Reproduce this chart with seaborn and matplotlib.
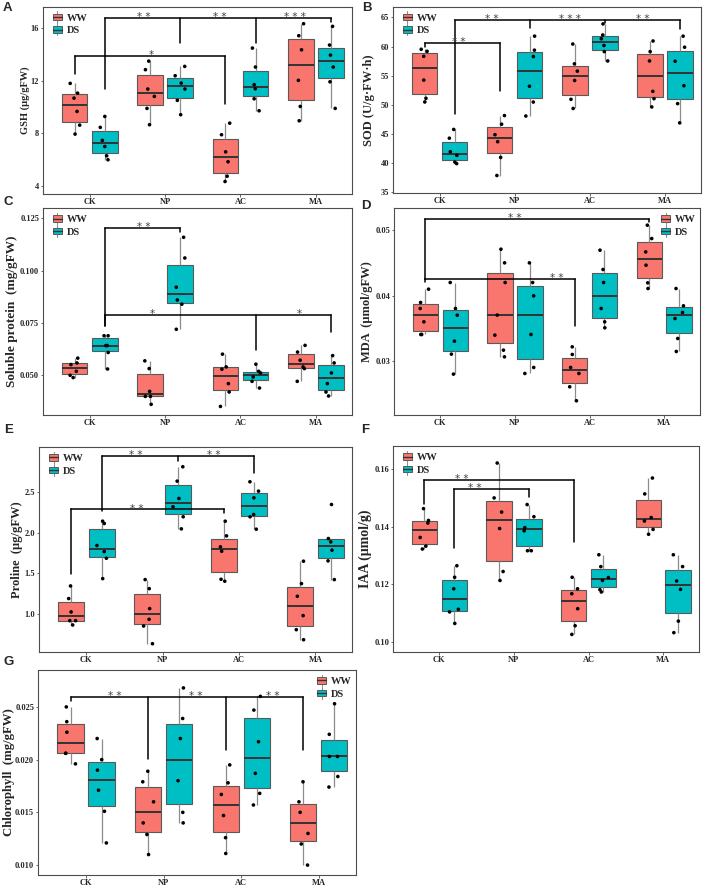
import numpy as np
import pandas as pd
import matplotlib
matplotlib.use("Agg")
import matplotlib.pyplot as plt
import seaborn as sns
from matplotlib.legend_handler import HandlerBase
from matplotlib.patches import Rectangle, Patch
from matplotlib.lines import Line2D

sns.set_style("white")
plt.rcParams["font.family"] = ["Liberation Serif", "DejaVu Serif"]
plt.rcParams["font.weight"] = "bold"
np.random.seed(7)

treatments = ["CK", "NP", "AC", "MA"]
conditions = ["WW", "DS"]
palette = {"WW": "#F8766D", "DS": "#00BFC4"}

# ---- data (per treatment: CK, NP, AC, MA) ----
gsh_ww = [[11.80, 11.06, 10.68, 9.67, 8.63, 7.95], [13.49, 12.84, 11.37, 10.81, 9.90, 8.66],
          [8.78, 7.90, 6.60, 5.85, 4.75, 4.35], [16.33, 15.42, 14.35, 12.03, 10.05, 8.96]]
gsh_ds = [[9.29, 8.46, 7.47, 7.01, 6.30, 6.00], [13.09, 12.38, 11.82, 11.37, 10.51, 9.42],
          [14.48, 13.04, 11.70, 11.39, 10.63, 9.72], [16.13, 14.71, 13.95, 13.04, 11.92, 9.90]]

sod_ww = [[59.55, 59.20, 58.35, 54.26, 51.14, 50.51], [48.18, 46.70, 44.90, 43.70, 41.00, 37.90],
          [60.45, 57.05, 55.80, 54.20, 50.97, 49.40], [60.97, 59.15, 57.55, 52.33, 51.08, 49.66]]
sod_ds = [[45.80, 44.30, 41.98, 41.36, 40.20, 39.94], [61.80, 59.40, 58.30, 53.20, 50.50, 48.10],
          [63.90, 62.00, 61.36, 60.20, 59.15, 57.55], [61.80, 59.90, 57.50, 53.30, 50.23, 46.93]]

prot_ww = [[0.0582, 0.0559, 0.0551, 0.0519, 0.0500, 0.0489], [0.0569, 0.0532, 0.0423, 0.0399, 0.0399, 0.0361],
           [0.0601, 0.0540, 0.0529, 0.0460, 0.0420, 0.0351], [0.0643, 0.0611, 0.0572, 0.0540, 0.0532, 0.0471]]
prot_ds = [[0.0689, 0.0689, 0.0642, 0.0642, 0.0609, 0.0530], [0.1160, 0.1061, 0.0921, 0.0860, 0.0840, 0.0720],
           [0.0553, 0.0519, 0.0511, 0.0492, 0.0471, 0.0439], [0.0594, 0.0559, 0.0511, 0.0460, 0.0420, 0.0401]]

mda_ww = [[0.04097, 0.03893, 0.03801, 0.03597, 0.03403, 0.03403],
          [0.04709, 0.04500, 0.04199, 0.03700, 0.03393, 0.03163, 0.03061],
          [0.03214, 0.03097, 0.02898, 0.02806, 0.02602, 0.02388],
          [0.05077, 0.04872, 0.04668, 0.04464, 0.04194, 0.04107]]
mda_ds = [[0.04199, 0.03801, 0.03699, 0.03301, 0.03102, 0.02796],
          [0.04500, 0.04199, 0.03995, 0.03403, 0.02898, 0.02806],
          [0.04694, 0.04398, 0.04199, 0.03801, 0.03597, 0.03505],
          [0.04107, 0.03842, 0.03740, 0.03648, 0.03342, 0.03143]]

pro_ww = [[1.344, 1.189, 1.025, 0.918, 0.918, 0.865], [1.422, 1.311, 1.066, 0.934, 0.852, 0.635],
          [2.139, 1.959, 1.824, 1.770, 1.426, 1.402], [1.648, 1.373, 1.217, 0.980, 0.807, 0.684]]
pro_ds = [[2.139, 2.111, 1.840, 1.766, 1.684, 1.434], [2.807, 2.631, 2.418, 2.316, 2.193, 2.045],
          [2.623, 2.508, 2.426, 2.221, 2.193, 2.041], [2.344, 1.926, 1.885, 1.783, 1.652, 1.422]]

iaa_ww = [[0.1463, 0.1422, 0.1413, 0.1363, 0.1333, 0.1323], [0.1621, 0.1500, 0.1451, 0.1394, 0.1245, 0.1214],
          [0.1225, 0.1185, 0.1168, 0.1116, 0.1057, 0.1027], [0.1569, 0.1514, 0.1432, 0.1420, 0.1391, 0.1374]]
iaa_ds = [[0.1265, 0.1225, 0.1185, 0.1114, 0.1105, 0.1065], [0.1477, 0.1435, 0.1397, 0.1386, 0.1317, 0.1317],
          [0.1303, 0.1262, 0.1224, 0.1214, 0.1182, 0.1174], [0.1303, 0.1262, 0.1212, 0.1183, 0.1073, 0.1033]]

chl_ww = [[0.0250, 0.0236, 0.0226, 0.0206, 0.0206, 0.0196], [0.0189, 0.0179, 0.0160, 0.0140, 0.0129, 0.0110],
          [0.0195, 0.0178, 0.0167, 0.0147, 0.0126, 0.0111], [0.0179, 0.0160, 0.0150, 0.0130, 0.0120, 0.0100]]
chl_ds = [[0.0220, 0.0200, 0.0190, 0.0171, 0.0151, 0.0121], [0.0268, 0.0239, 0.0220, 0.0180, 0.0150, 0.0140],
          [0.0260, 0.0247, 0.0217, 0.0187, 0.0168, 0.0157], [0.0253, 0.0224, 0.0203, 0.0203, 0.0184, 0.0174]]

# ---- panel definitions ----
panels = [
    dict(letter="A", ww=gsh_ww, ds=gsh_ds, ylabel="GSH (μg/gFW)", ylim=(3.4, 17.6),
         yticks=[4, 8, 12, 16], fmt="{:g}", lsize=7.5, lpad=18, legend="upper left",
         rect=(43, 7, 352, 194),
         brackets=[
             dict(top=13.85, legs=[("CK", "WW", 12.53), ("AC", "WW", 10.23)], labels=[(0.82, "*")]),
             dict(top=16.76, legs=[("CK", "DS", 11.37), ("NP", "DS", 14.86), ("AC", "DS", 14.86), ("MA", "DS", 16.43)],
                  labels=[(0.72, "* *"), (1.72, "* *"), (2.72, "* * *")]),
         ]),
    dict(letter="B", ww=sod_ww, ds=sod_ds, ylabel="SOD (U/g·FW·h)", ylim=(34.9, 66.8),
         yticks=[35, 40, 45, 50, 55, 60, 65], fmt="{:g}", lsize=9, lpad=24, legend="upper left",
         rect=(393, 7, 701, 193),
         brackets=[
             dict(top=60.57, legs=[("CK", "WW", 60.0), ("NP", "WW", 52.4)], labels=[(0.26, "* *")]),
             dict(top=64.6, legs=[("CK", "DS", 48.5), ("NP", "DS", 63.2), ("AC", "DS", 64.0), ("MA", "DS", 63.0)],
                  labels=[(0.70, "* *"), (1.74, "* * *"), (2.70, "* *")]),
         ]),
    dict(letter="C", ww=prot_ww, ds=prot_ds, ylabel="Soluble protein  (mg/gFW)", ylim=(0.031, 0.130),
         yticks=[0.050, 0.075, 0.100, 0.125], fmt="{:.3f}", lsize=9.5, lpad=31, legend="upper left",
         rect=(43, 208, 352, 415),
         brackets=[
             dict(top=0.1205, legs=[("CK", "DS", 0.0736), ("NP", "DS", 0.1186)], labels=[(0.72, "* *")]),
             dict(top=0.0788, legs=[("CK", "DS", 0.0736), ("AC", "DS", 0.0623), ("MA", "DS", 0.0708)],
                  labels=[(0.83, "*"), (2.78, "*")]),
         ]),
    dict(letter="D", ww=mda_ww, ds=mda_ds, ylabel="MDA  (μmol/gFW)", ylim=(0.0217, 0.0534),
         yticks=[0.03, 0.04, 0.05], fmt="{:.2f}", lsize=9, lpad=27, legend="upper right",
         rect=(394, 208, 700, 415),
         brackets=[
             dict(top=0.05179, legs=[("CK", "WW", 0.0426), ("MA", "WW", 0.0512)], labels=[(1.0, "* *")]),
             dict(top=0.0426, legs=[("CK", "WW", 0.0420), ("AC", "WW", 0.0353)], labels=[(1.56, "* *")]),
         ]),
    dict(letter="E", ww=pro_ww, ds=pro_ds, ylabel="Proline  (μg/gFW)", ylim=(0.533, 3.05),
         yticks=[1.0, 1.5, 2.0, 2.5], fmt="{:.1f}", lsize=9, lpad=22, legend="upper left",
         rect=(39, 447, 352, 652),
         brackets=[
             dict(top=2.939, legs=[("CK", "DS", 2.266), ("NP", "DS", 2.88), ("AC", "DS", 2.725)],
                  labels=[(0.65, "* *"), (1.67, "* *")]),
             dict(top=2.283, legs=[("CK", "WW", 1.496), ("AC", "WW", 2.242)], labels=[(0.66, "* *")]),
         ]),
    dict(letter="F", ww=iaa_ww, ds=iaa_ds, ylabel="IAA (μmol/g)", ylim=(0.0966, 0.168),
         yticks=[0.10, 0.12, 0.14, 0.16], fmt="{:.2f}", lsize=10, lpad=28, legend="upper left",
         rect=(393, 446, 699, 652),
         brackets=[
             dict(top=0.1561, legs=[("CK", "WW", 0.148), ("AC", "WW", 0.1348)], labels=[(0.30, "* *")]),
             dict(top=0.1531, legs=[("CK", "DS", 0.1328), ("NP", "DS", 0.1503)], labels=[(0.47, "* *")]),
         ]),
    dict(letter="G", ww=chl_ww, ds=chl_ds, ylabel="Chlorophyll  (mg/gFW)", ylim=(0.00906, 0.0285),
         yticks=[0.010, 0.015, 0.020, 0.025], fmt="{:.3f}", lsize=9.2, lpad=29, legend="upper right",
         rect=(38, 670, 356, 875),
         brackets=[
             dict(top=0.02593, legs=[("CK", "WW", 0.0256), ("NP", "WW", 0.0201), ("AC", "WW", 0.0209), ("MA", "WW", 0.0209)],
                  labels=[(0.37, "* *"), (1.42, "* *"), (2.41, "* *")]),
         ]),
]

W, H = 708, 888
letter_pos = {"A": (3, 2), "B": (362, 2), "C": (3, 196), "D": (361, 200),
              "E": (4, 424), "F": (361, 424), "G": (4, 656)}


def make_df(ww, ds):
    rows = []
    for cond, groups in (("WW", ww), ("DS", ds)):
        for t, vals in zip(treatments, groups):
            for v in vals:
                rows.append((t, cond, v))
    return pd.DataFrame(rows, columns=["treatment", "condition", "value"])


def xpos(t, c):
    return treatments.index(t) + (-0.2 if c == "WW" else 0.2)


class BoxHandler(HandlerBase):
    def create_artists(self, legend, orig_handle, xdescent, ydescent, width, height, fontsize, trans):
        fc = orig_handle.get_facecolor()
        x0, y0 = -xdescent, -ydescent
        bx, bw = x0 + 0.1 * width, 0.8 * width
        by, bh = y0 + 0.12 * height, 0.76 * height
        xm = x0 + width / 2
        arts = [
            Line2D([xm, xm], [y0 - 0.15 * height, y0 + 1.15 * height], color="#8c8c8c", lw=0.8, transform=trans),
            Rectangle((bx, by), bw, bh, facecolor=fc, edgecolor="#595959", lw=0.7, transform=trans),
            Line2D([bx, bx + bw], [by + bh / 2, by + bh / 2], color="#333333", lw=1.0, transform=trans),
        ]
        return arts


fig = plt.figure(figsize=(W / 100, H / 100), dpi=100)

for p in panels:
    l, t, r, b = p["rect"]
    ax = fig.add_axes([l / W, 1 - b / H, (r - l) / W, (b - t) / H])
    df = make_df(p["ww"], p["ds"])
    sns.boxplot(data=df, x="treatment", y="value", hue="condition", order=treatments,
                hue_order=conditions, palette=palette, saturation=1, width=0.8, gap=0.15,
                showcaps=False, showfliers=False, linewidth=0.8, linecolor="#595959",
                medianprops=dict(color="#333333", linewidth=1.4),
                whiskerprops=dict(color="#8c8c8c", linewidth=0.9),
                legend=False, ax=ax)
    sns.stripplot(data=df, x="treatment", y="value", hue="condition", order=treatments,
                  hue_order=conditions, palette={"WW": "black", "DS": "black"}, dodge=True,
                  jitter=0.14, size=2.6, linewidth=0, legend=False, ax=ax, zorder=5)
    ax.set_xlim(-0.62, 3.48)
    ax.set_ylim(*p["ylim"])
    ax.set_yticks(p["yticks"])
    ax.set_yticklabels([p["fmt"].format(v) for v in p["yticks"]])
    ax.set_xlabel("")
    ax.set_ylabel(p["ylabel"], fontsize=p["lsize"], fontweight="bold", va="center")
    ax.yaxis.set_label_coords(-p["lpad"] / (r - l), 0.5)
    for s in ax.spines.values():
        s.set_visible(True)
        s.set_color("#4d4d4d")
        s.set_linewidth(0.8)
    ax.tick_params(axis="both", which="major", length=1.8, width=0.6, color="#4d4d4d",
                   labelsize=6, pad=1.0, left=True, bottom=True)
    ax.tick_params(axis="x", pad=0.8)
    for lab in ax.get_xticklabels() + ax.get_yticklabels():
        lab.set_fontweight("bold")

    # significance brackets
    for br in p["brackets"]:
        xs = [xpos(tt, cc) for tt, cc, _ in br["legs"]]
        ax.plot([min(xs), max(xs)], [br["top"], br["top"]], color="black", lw=1.1,
                solid_capstyle="projecting", zorder=6)
        for (tt, cc, yb), x in zip(br["legs"], xs):
            ax.plot([x, x], [yb, br["top"]], color="black", lw=1.1, zorder=6)
        for x, txt in br["labels"]:
            ax.annotate(txt, (x, br["top"]), xytext=(0, -1.5), textcoords="offset points",
                        ha="center", va="baseline", fontsize=7.5, color="#444444",
                        family="DejaVu Sans", fontweight="normal", zorder=7)

    handles = [Patch(facecolor=palette[c]) for c in conditions]
    if p["legend"] == "upper left":
        loc, anchor = "upper left", (0.025, 0.975)
    else:
        loc, anchor = "upper right", (0.99, 0.975)
    leg = ax.legend(handles, conditions, loc=loc, bbox_to_anchor=anchor,
                    handler_map={Patch: BoxHandler()}, frameon=False, fontsize=7.5,
                    handlelength=1.1, handleheight=0.9, handletextpad=0.35,
                    labelspacing=0.25, borderpad=0.1, borderaxespad=0)
    for txt in leg.get_texts():
        txt.set_fontweight("bold")

    lx, ly = letter_pos[p["letter"]]
    fig.text(lx / W, 1 - ly / H, p["letter"], ha="left", va="top", fontsize=9.5,
             fontweight="bold", family="Liberation Sans")

fig.savefig("out.png", dpi=100)
